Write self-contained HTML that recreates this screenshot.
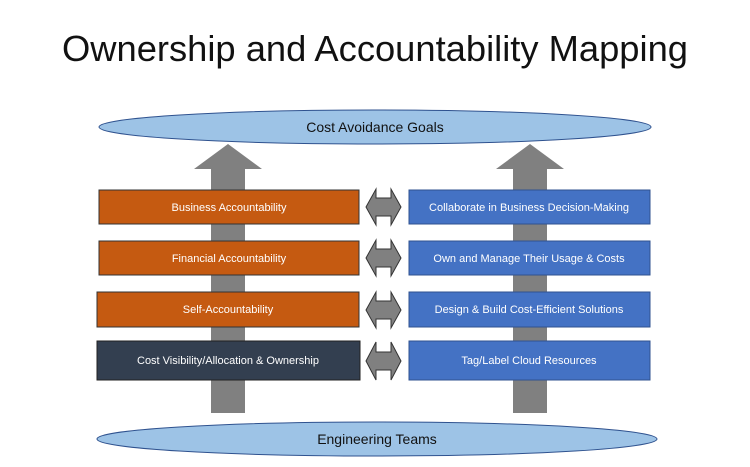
<!DOCTYPE html>
<html><head><style>
body{margin:0;background:#fff;}
svg text{font-family:"Liberation Sans",sans-serif;}
</style></head><body>
<svg width="750" height="462" viewBox="0 0 750 462" xmlns="http://www.w3.org/2000/svg">
<text x="375" y="61" text-anchor="middle" font-size="36" fill="#111" textLength="626" lengthAdjust="spacingAndGlyphs">Ownership and Accountability Mapping</text>
<ellipse cx="375" cy="127" rx="276" ry="17" fill="#9DC3E6" stroke="#2F528F" stroke-width="1"/>
<text x="375" y="132" text-anchor="middle" font-size="14" fill="#111">Cost Avoidance Goals</text>
<ellipse cx="377" cy="439" rx="280" ry="17" fill="#9DC3E6" stroke="#2F528F" stroke-width="1"/>
<text x="377" y="444" text-anchor="middle" font-size="14" fill="#111">Engineering Teams</text>
<polygon points="211,413 211,169 194,169 228,144 262,169 245,169 245,413" fill="#808080"/>
<polygon points="513,413 513,169 496,169 530,144 564,169 547,169 547,413" fill="#808080"/>
<g font-size="11" fill="#fff" text-anchor="middle">
<rect x="99" y="190" width="260" height="34" fill="#C55A11" stroke="#333" stroke-width="1"/>
<text x="229" y="211">Business Accountability</text>
<rect x="99" y="241" width="260" height="34" fill="#C55A11" stroke="#333" stroke-width="1"/>
<text x="229" y="262">Financial Accountability</text>
<rect x="97" y="292" width="262" height="35" fill="#C55A11" stroke="#333" stroke-width="1"/>
<text x="228" y="313">Self-Accountability</text>
<rect x="97" y="341" width="263" height="39" fill="#333F50" stroke="#222" stroke-width="1"/>
<text x="228" y="364">Cost Visibility/Allocation &amp; Ownership</text>
<rect x="409" y="190" width="241" height="34" fill="#4472C4" stroke="#2F528F" stroke-width="1"/>
<text x="529" y="211">Collaborate in Business Decision-Making</text>
<rect x="409" y="241" width="241" height="34" fill="#4472C4" stroke="#2F528F" stroke-width="1"/>
<text x="529" y="262">Own and Manage Their Usage &amp; Costs</text>
<rect x="409" y="292" width="241" height="35" fill="#4472C4" stroke="#2F528F" stroke-width="1"/>
<text x="529" y="313">Design &amp; Build Cost-Efficient Solutions</text>
<rect x="409" y="341" width="241" height="39" fill="#4472C4" stroke="#2F528F" stroke-width="1"/>
<text x="529" y="364">Tag/Label Cloud Resources</text>
</g>
<g fill="#808080" stroke="#333" stroke-width="1">
<polygon points="366,207 376,189 376,198 391,198 391,189 401,207 391,225 391,216 376,216 376,225"/>
<polygon points="366,258 376,240 376,249 391,249 391,240 401,258 391,276 391,267 376,267 376,276"/>
<polygon points="366,310 376,292 376,301 391,301 391,292 401,310 391,328 391,319 376,319 376,328"/>
<polygon points="366,361 376,342 376,352 391,352 391,342 401,361 391,380 391,370 376,370 376,380"/>
</g>
</svg>
</body></html>
